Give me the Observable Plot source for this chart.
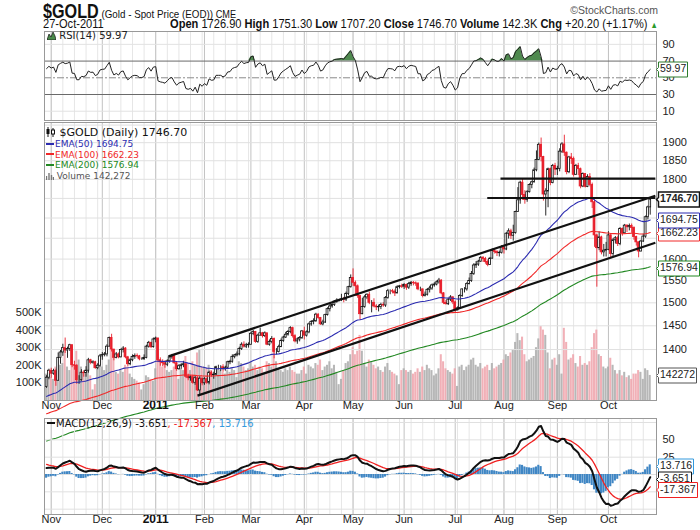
<!DOCTYPE html>
<html><head><meta charset="utf-8">
<script src="https://cdn.jsdelivr.net/npm/d3@7"></script>
<script src="https://cdn.jsdelivr.net/npm/@observablehq/plot@0.6"></script>
<style>
body{margin:0;background:#fff;}
#root{position:relative;width:700px;height:530px;overflow:hidden;font-family:"Liberation Sans",Arial,sans-serif;color:#111;}
.abs{position:absolute;white-space:nowrap;}
.dash{display:inline-block;width:8px;height:2px;background:currentColor;vertical-align:middle;margin-right:1px;position:relative;top:-1px;}
</style></head><body><div id="root"></div>
<script>
// ---------- DATA (daily, 28-Oct-2010 .. 27-Oct-2011, weekdays) ----------
const firstOpen = 1325;
const closes = [
1343,1357,
1351,1356,1337,1383,1394,1403,1398,1401,1409,1368,1367,1338,1338,1353,1352,1357,1378,1373,1374,1362,1367,1386,
1389,1390,1406,1424,1400,1383,1390,1384,1399,1402,1384,1370,1378,1385,1387,1386,1380,1380,1383,1406,1414,1405,1421,
1423,1378,1374,1372,1369,1376,1384,1386,1372,1360,1366,1368,1370,1345,1342,1344,1333,1342,1318,1341,1332,
1340,1333,1353,1348,1349,1364,1364,1364,1360,1363,1374,1375,1385,1388,1390,1401,1410,1406,1409,1410,
1433,1437,1416,1429,1434,1428,1434,1410,1416,1422,1395,1395,1405,1418,1425,1431,1437,1445,1428,1417,1421,1424,1438,
1429,1436,1453,1458,1460,1474,1467,1453,1457,1473,1486,1492,1495,1503,1505,1506,1508,1507,1520,1535,1556,
1545,1537,1515,1475,1491,1512,1518,1500,1500,1492,1490,1491,1495,1494,1511,1526,1526,1525,1521,1535,1537,1536,
1540,1534,1542,1545,1544,1543,1530,1530,1515,1518,1529,1532,1539,1541,1546,1550,1521,1500,1497,1507,1512,1501,
1483,1488,1515,1530,1530,1542,1549,1565,1585,1587,1594,1603,1600,1593,1586,1601,1619,1617,1614,1615,1628,
1623,1661,1667,1656,1663,1715,1745,1791,1759,1746,1766,1785,1792,1824,1852,1894,1860,1760,1768,1827,1790,1836,1826,
1828,1875,1895,1872,1819,1859,1855,1812,1836,1827,1781,1814,1780,1806,1785,1740,1657,1626,1652,1616,1620,1622,
1657,1612,1645,1650,1636,1673,1662,1681,1677,1680,1675,1653,1640,1618,1642,1654,1702,1726.9,1746.7];
const highs = [
1347,1360,
1362,1360,1360,1393,1398,1411,1424,1405,1411,1410,1376,1369,1347,1359,1357,1365,1382,1380,1377,1376,1371,1390,
1394,1394,1410,1426,1432,1400,1394,1393,1401,1406,1404,1386,1381,1389,1391,1391,1388,1383,1389,1409,1417,1415,1424,
1426,1424,1383,1379,1377,1379,1387,1390,1390,1375,1369,1371,1376,1371,1350,1347,1348,1346,1345,1345,1343,
1343,1342,1356,1356,1354,1366,1368,1367,1369,1366,1376,1378,1389,1390,1395,1405,1414,1416,1413,1414,
1436,1440,1438,1432,1445,1436,1437,1434,1420,1427,1424,1402,1409,1422,1428,1436,1440,1448,1447,1431,1424,1427,1440,
1447,1439,1456,1461,1465,1477,1476,1468,1462,1475,1489,1496,1497,1505,1509,1508,1519,1512,1524,1537,1563,
1577,1549,1540,1516,1510,1516,1520,1524,1505,1509,1496,1495,1499,1500,1514,1530,1529,1530,1529,1538,1539,1542,
1543,1542,1546,1548,1548,1547,1545,1535,1531,1524,1532,1537,1542,1545,1549,1555,1552,1523,1505,1510,1516,1514,
1504,1491,1518,1531,1534,1545,1556,1571,1589,1594,1597,1606,1606,1604,1598,1604,1624,1624,1620,1619,1632,
1632,1664,1673,1672,1682,1717,1778,1795,1800,1770,1770,1788,1795,1830,1877,1899,1913,1862,1775,1830,1830,1840,1843,
1835,1883,1900,1921,1874,1862,1870,1860,1840,1843,1830,1817,1815,1812,1815,1790,1745,1660,1665,1655,1635,1640,
1666,1660,1649,1654,1655,1676,1675,1684,1683,1685,1685,1678,1655,1641,1645,1660,1705,1730,1751.3];
const lows = [
1322,1339,
1342,1348,1326,1336,1370,1386,1392,1382,1396,1363,1358,1330,1330,1336,1344,1344,1352,1369,1370,1360,1359,1364,
1378,1385,1385,1405,1395,1377,1381,1381,1383,1393,1381,1365,1367,1375,1380,1382,1377,1378,1378,1381,1403,1402,1403,
1414,1374,1366,1365,1362,1365,1372,1380,1370,1356,1358,1360,1363,1342,1337,1336,1330,1328,1316,1309,1327,
1328,1330,1329,1344,1340,1347,1359,1355,1354,1356,1359,1369,1372,1381,1385,1387,1398,1403,1402,1403,
1409,1429,1413,1413,1428,1424,1425,1408,1407,1412,1381,1389,1393,1404,1415,1423,1428,1433,1424,1414,1411,1416,1421,
1420,1426,1433,1449,1452,1457,1464,1451,1450,1455,1471,1480,1488,1492,1499,1502,1503,1500,1503,1516,1533,
1537,1515,1510,1462,1474,1488,1507,1496,1478,1489,1483,1480,1485,1490,1490,1508,1518,1520,1514,1520,1531,1532,
1530,1528,1530,1537,1538,1537,1527,1525,1511,1513,1515,1522,1528,1535,1538,1542,1518,1496,1495,1494,1503,1496,
1478,1483,1486,1512,1522,1526,1540,1546,1562,1578,1583,1592,1592,1588,1582,1585,1600,1612,1606,1605,1612,
1612,1620,1648,1647,1643,1660,1714,1735,1745,1735,1740,1764,1775,1790,1820,1850,1847,1743,1705,1726,1783,1788,1810,
1810,1820,1870,1862,1812,1815,1840,1806,1810,1810,1775,1778,1777,1778,1780,1724,1628,1535,1620,1610,1605,1605,
1620,1601,1605,1636,1630,1632,1655,1660,1664,1668,1662,1645,1631,1603,1617,1640,1650,1695,1707.2];
const volumesK = [
150,170,
130,120,190,230,200,210,290,190,170,310,200,280,230,190,160,150,210,140,60,90,180,200,
190,170,200,230,300,240,160,150,170,160,200,190,150,130,120,110,100,60,90,140,130,120,110,
180,270,230,190,200,170,160,170,190,200,120,180,170,250,210,170,220,200,270,290,190,
190,180,200,170,150,190,180,170,160,150,170,160,180,170,130,220,210,190,170,180,
220,190,200,170,190,180,160,220,210,190,280,220,180,170,160,180,170,190,170,160,150,150,170,
190,150,200,190,180,210,200,230,170,190,200,220,180,200,160,90,120,170,210,220,260,
300,260,280,370,280,210,190,230,220,200,180,190,170,160,190,210,170,160,150,140,90,170,
180,170,160,170,150,160,180,160,190,170,200,180,170,140,150,180,260,220,180,170,160,150,
180,80,190,200,170,190,200,230,240,200,190,210,180,190,200,170,210,180,190,200,210,
230,260,250,270,290,330,380,340,360,260,220,230,240,250,300,350,420,400,370,270,180,230,240,
200,260,150,410,330,230,240,260,210,190,250,200,210,200,220,300,380,400,260,250,190,180,
190,240,200,170,150,170,140,160,130,140,120,150,150,170,160,120,180,170,142.272];

const monthLabels = ["Nov","Dec","2011","Feb","Mar","Apr","May","Jun","Jul","Aug","Sep","Oct"];
const priceTicks = [1400,1450,1500,1550,1600,1800,1850,1900];
const priceGrid = [1400,1450,1500,1550,1600,1650,1700,1750,1800,1850,1900,1950];
const volumeTicks = [100000,200000,300000,400000,500000];
const rsiTicks = [10,30,50,70,90];
const macdTicks = [50,25,-25];
const macdGrid = [-50,-25,0,25,50,75];
// trend lines drawn on the chart: trading-day index (0 = 1-Nov-2010) and price
const trendStartIdx = [50.5, 63, 193.5, 187.8];
const trendStartPrice = [1386, 1308, 1802, 1751];
const trendEndIdx = [260.2, 260.2, 260.2, 260.2];
const trendEndPrice = [1757, 1639, 1802, 1751];
// indicator seeds (values before the first bar)
const emaSeed50 = 1305, emaSeed100 = 1272, emaSeed200 = 1222;
const ema12Seed = 1342, ema26Seed = 1332, signalSeed = 16;
const rsiSeedGain = 8, rsiSeedLoss = 6;
// last values as printed on the chart
const lastClose = 1746.70, lastEma50 = 1694.75, lastEma100 = 1662.23, lastEma200 = 1576.94;
const lastVolume = 142272, lastRsi = 59.97, lastMacd = -3.651, lastSignal = -17.367, lastHist = 13.716;

// ---------- calendar ----------
const dates = [];
for (let d = new Date("2010-10-28T00:00:00Z"); d <= new Date("2011-10-27T00:00:00Z"); d = new Date(d.getTime() + 864e5)) {
  const w = d.getUTCDay(); if (w > 0 && w < 6) dates.push(d);
}
const OFFSET = 2;
const n = Math.min(closes.length, highs.length, lows.length, volumesK.length, dates.length);

function ema(vals, span, seed) { const k = 2 / (span + 1); let e = seed; return vals.map(v => (e = e + k * (v - e))); }
const cl = closes.slice(0, n);
const e50 = ema(cl, 50, emaSeed50), e100 = ema(cl, 100, emaSeed100), e200 = ema(cl, 200, emaSeed200);
const e12 = ema(cl, 12, ema12Seed), e26 = ema(cl, 26, ema26Seed);
const macd = e12.map((v, k) => v - e26[k]);
const sig = ema(macd, 9, signalSeed);
let ag = rsiSeedGain, al = rsiSeedLoss, pc = firstOpen;
const rsi = cl.map(c => { const ch = c - pc; pc = c; ag = (ag * 13 + Math.max(ch, 0)) / 14; al = (al * 13 + Math.max(-ch, 0)) / 14; return 100 - 100 / (1 + ag / al); });

const rows = [];
for (let k = 0; k < n; k++) {
  const o = k ? closes[k - 1] : firstOpen, c = closes[k];
  rows.push({i: k - OFFSET, date: dates[k], o, h: highs[k], l: lows[k], c, v: volumesK[k] * 1000,
    down: c < o, e50: e50[k], e100: e100[k], e200: e200[k], rsi: rsi[k], macd: macd[k], sig: sig[k], hist: macd[k] - sig[k]});
}
const mondays = rows.filter(d => d.date.getUTCDay() === 1);
const monthRows = rows.filter((d, k) => k > 0 && d.date.getUTCMonth() !== rows[k - 1].date.getUTCMonth())
  .map((d, j) => ({i: d.i, label: monthLabels[j]}));
const trends = trendStartIdx.map((v, j) => ({i0: v, p0: trendStartPrice[j], i1: trendEndIdx[j], p1: trendEndPrice[j]}));

// ---------- layout ----------
const root = document.getElementById("root");
const X_DOMAIN = [-2.9, 260.7];
const X_END = X_DOMAIN[1];
const FONT = "'Liberation Sans', Arial, sans-serif";
const RED = "#e8202c", BLUE = "#2b2bb0", EMARED = "#f02828", GREEN = "#228822";
const baseStyle = {background: "transparent", fontFamily: FONT, fontSize: "11px", color: "#222", overflow: "visible"};
const common = {width: 700, marginLeft: 44, marginRight: 44, marginTop: 1};
const plain = d => String(d);
const vgrid = () => [
  Plot.ruleX(mondays, {x: "i", stroke: "#e6e6e6"}),
  Plot.ruleX(monthRows, {x: "i", stroke: "#c2c2c2"})
];
const monthText = () => [
  Plot.text(monthRows.filter(d => d.label !== "2011"), {x: "i", text: "label", frameAnchor: "bottom", dy: 8, fontSize: 11, fill: "#222"}),
  Plot.text(monthRows.filter(d => d.label === "2011"), {x: "i", text: "label", frameAnchor: "bottom", dy: 8, fontSize: 12, fontWeight: "bold", fill: "#111"})
];
const box = (value, text, color, extra = {}) => Plot.tip([{x: X_END, y: value, t: text}], {
  x: "x", y: "y", title: "t", anchor: "left", stroke: color, fill: "white", fontSize: 10.5,
  fontFamily: FONT, textPadding: 1.5, pointerSize: 4, pathFilter: "none", ...extra});
function place(svg, top) { svg.style.position = "absolute"; svg.style.left = "0px"; svg.style.top = top + "px"; root.appendChild(svg); }

// RSI panel
place(Plot.plot({
  ...common, height: 91, marginBottom: 1,
  x: {domain: X_DOMAIN, axis: null}, y: {domain: [-1.1, 105.4], axis: null}, style: baseStyle,
  marks: [
    ...vgrid(),
    Plot.ruleY([10, 90], {stroke: "#e2e2e2"}),
    Plot.areaY(rows, {x: "i", y1: 70, y2: d => Math.max(70, d.rsi), fill: "#4f8a4f"}),
    Plot.ruleY([70, 30], {stroke: "#6a6a6a"}),
    Plot.ruleY([50], {stroke: "#8a8a8a", strokeDasharray: "7,2,2,2"}),
    Plot.line(rows, {x: "i", y: "rsi", stroke: "#222", strokeWidth: 1}),
    Plot.axisY(rsiTicks, {anchor: "right", tickSize: 0, tickPadding: 6, fontSize: 11, tickFormat: plain}),
    Plot.frame({stroke: "#999"}),
    box(lastRsi, "59.97", "#2d7d2d")
  ]
}), 30);

// Volume layer (behind price)
place(Plot.plot({
  ...common, height: 294, marginBottom: 15,
  x: {domain: X_DOMAIN, axis: null}, y: {domain: [0, 1579545], axis: null}, style: baseStyle,
  marks: [
    ...vgrid(),
    Plot.rect(rows, {x1: d => d.i - 0.44, x2: d => d.i + 0.44, y1: 0, y2: "v",
      fill: d => d.down ? "#efa2aa" : "#aaaaaa", fillOpacity: 0.85}),
    Plot.axisY(volumeTicks, {anchor: "left", tickSize: 0, tickPadding: 3, fontSize: 11, tickFormat: d => d / 1000 + "K"}),
    box(lastVolume, "142272", "#555")
  ]
}), 121);

// Price layer
place(Plot.plot({
  ...common, height: 294, marginBottom: 15,
  x: {domain: X_DOMAIN, axis: null}, y: {type: "log", domain: [1298.6, 1957.4], axis: null}, style: baseStyle,
  marks: [
    Plot.ruleY(priceGrid, {stroke: "#e0e0e0"}),
    Plot.ruleX(rows, {x: "i", y1: "l", y2: "h", stroke: d => d.down ? RED : "#111", strokeWidth: 0.9}),
    Plot.rect(rows, {x1: d => d.i - 0.4, x2: d => d.i + 0.4, y1: "o", y2: "c",
      fill: d => d.down ? RED : "#ffffff", stroke: d => d.down ? RED : "#111", strokeWidth: 0.8}),
    Plot.line(rows, {x: "i", y: "e200", stroke: GREEN, strokeWidth: 1.1}),
    Plot.line(rows, {x: "i", y: "e100", stroke: EMARED, strokeWidth: 1.1}),
    Plot.line(rows, {x: "i", y: "e50", stroke: BLUE, strokeWidth: 1.1}),
    Plot.link(trends, {x1: "i0", y1: "p0", x2: "i1", y2: "p1", stroke: "#111", strokeWidth: 2.2}),
    Plot.axisY(priceTicks, {anchor: "right", tickSize: 0, tickPadding: 6, fontSize: 11, tickFormat: plain}),
    ...monthText(),
    Plot.frame({stroke: "#999"}),
    box(lastEma200, "1576.94", GREEN),
    box(lastEma100, "1662.23", EMARED),
    box(lastEma50, "1694.75", BLUE),
    box(lastClose, "1746.70", "#111", {fontWeight: "bold", strokeWidth: 1.5})
  ]
}), 121);

// MACD panel
place(Plot.plot({
  ...common, height: 112, marginBottom: 15,
  x: {domain: X_DOMAIN, axis: null}, y: {domain: [-57.7, 80.8], axis: null}, style: baseStyle,
  marks: [
    ...vgrid(),
    Plot.ruleY(macdGrid, {stroke: "#e0e0e0"}),
    Plot.rect(rows, {x1: d => d.i - 0.45, x2: d => d.i + 0.45, y1: 0, y2: "hist", fill: "#3f86c4"}),
    Plot.line(rows, {x: "i", y: "sig", stroke: "#f02020", strokeWidth: 1.3}),
    Plot.line(rows, {x: "i", y: "macd", stroke: "#111", strokeWidth: 2}),
    Plot.axisY(macdTicks, {anchor: "right", tickSize: 0, tickPadding: 6, fontSize: 11, tickFormat: plain}),
    ...monthText(),
    Plot.frame({stroke: "#999"}),
    box(lastHist, "13.716", "#3399dd", {dy: 2}),
    box(lastMacd, "-3.651", "#111", {dy: 2}),
    box(lastSignal, "-17.367", "#f02020", {dy: 3.5})
  ]
}), 417);

// ---------- text: header and legends ----------
function el(html, css) { const d = document.createElement("div"); d.className = "abs"; d.innerHTML = html; Object.assign(d.style, css); root.appendChild(d); return d; }
el(`<span style="font-weight:bold;font-size:19.5px">$GOLD</span><span style="font-size:11.8px"> (Gold - Spot Price (EOD)) </span><span style="font-size:11px">CME</span>`,
  {left: "43px", top: "1px", lineHeight: "21px", transform: "scaleX(0.83)", transformOrigin: "left top"});
el(`©StockCharts.com`, {right: "42px", top: "3px", fontSize: "10.5px", color: "#555", lineHeight: "14px"});
el(`27-Oct-2011`, {left: "43px", top: "17px", fontSize: "13.5px", lineHeight: "14px", transform: "scaleX(0.82)", transformOrigin: "left top"});
el(`<b>Open</b> 1726.90 <b>High</b> 1751.30 <b>Low</b> 1707.20 <b>Close</b> 1746.70 <b>Volume</b> 142.3K <b>Chg</b> +20.20 (+1.17%) <span style="color:#2a9a2a;font-size:9px">&#9650;</span>`,
  {right: "42px", top: "17px", fontSize: "13.5px", lineHeight: "14px", transform: "scaleX(0.82)", transformOrigin: "right top"});

el(`<svg width="9" height="9" style="vertical-align:-1px"><path d="M0 9L2 3L4 6L6 1L8 5L9 9Z" fill="#4a8a4a" stroke="#111" stroke-width=".7"/></svg> RSI(14) 59.97`,
  {left: "47px", top: "30px", fontSize: "10px", lineHeight: "12px", color: "#222", fontFamily: "'DejaVu Sans',Verdana,sans-serif"});

el(`<div style="font-size:11px;line-height:12px;color:#111"><svg width="10" height="10" style="vertical-align:-1px"><path d="M2 0v10M7 1v9" stroke="#111"/><rect x="0.5" y="2" width="3" height="5" fill="#111"/><rect x="5.5" y="3" width="3" height="4" fill="#fff" stroke="#111"/></svg> $GOLD (Daily) 1746.70</div>
<div style="font-size:9px;line-height:10.5px;color:${BLUE}"><span class="dash"></span>EMA(50) 1694.75</div>
<div style="font-size:9px;line-height:10.5px;color:${EMARED}"><span class="dash"></span>EMA(100) 1662.23</div>
<div style="font-size:9px;line-height:10.5px;color:${GREEN}"><span class="dash"></span>EMA(200) 1576.94</div>
<div style="font-size:9px;line-height:10.5px;color:#555"><svg width="8" height="8" style="vertical-align:-1px"><path d="M0.5 8V4M3 8V1M5.5 8V3M7.5 8V5" stroke="#777" stroke-width="1.4"/></svg> Volume 142,272</div>`,
  {left: "46px", top: "127px", fontFamily: "'DejaVu Sans',Verdana,sans-serif"});

el(`<span class="dash" style="color:#111"></span><span style="color:#111">MACD(12,26,9) -3.651</span><span style="color:#f02020">, -17.367</span><span style="color:#3399dd">, 13.716</span>`,
  {left: "47px", top: "418px", fontSize: "10px", lineHeight: "12px", fontFamily: "'DejaVu Sans',Verdana,sans-serif"});
</script></body></html>
